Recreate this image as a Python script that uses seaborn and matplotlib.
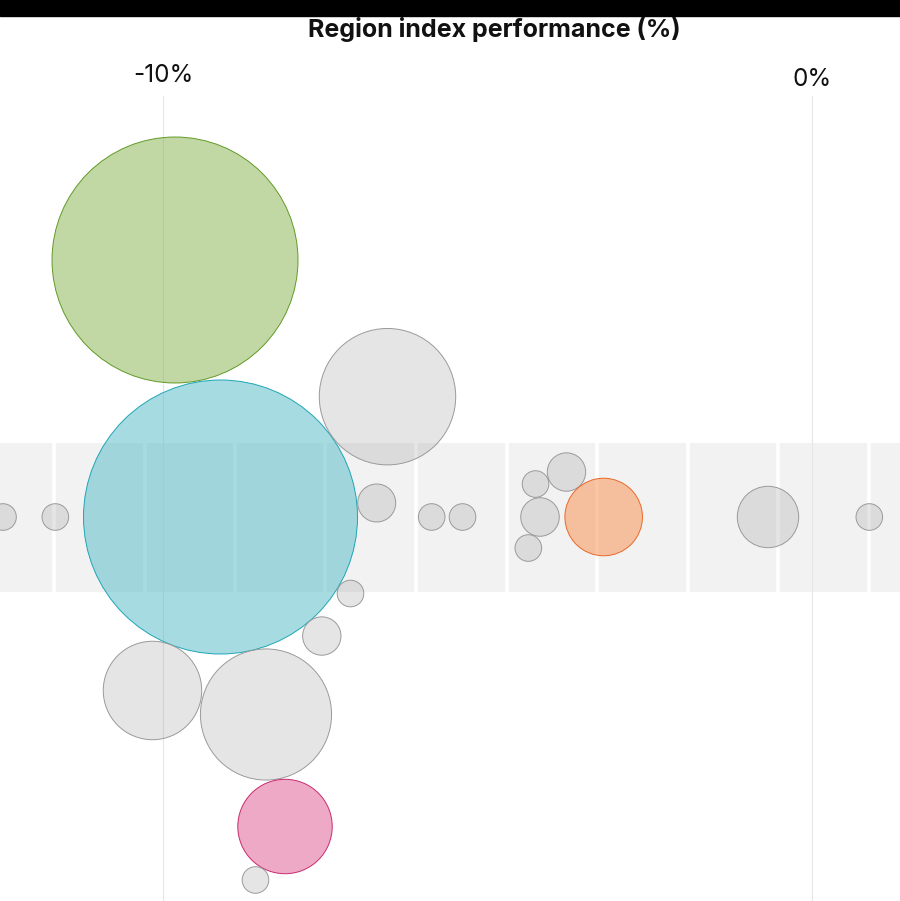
import matplotlib
matplotlib.use("Agg")
import matplotlib.pyplot as plt
import matplotlib.colors as mcolors
import numpy as np
import pandas as pd
import seaborn as sns

# ---------------- data ----------------
perf_x = [-9.815, -9.114, -6.541, -6.707, -12.465, -11.659, -5.860, -5.385,
          -4.260, -3.783, -4.191, -4.371, -3.210, -0.678, 0.883, -7.111,
          -7.553, -10.162, -8.413, -8.120, -8.575]
swarm_y = [3.960, 0.0, 1.854, 0.216, 0.0, 0.0, 0.0, 0.0,
           0.508, 0.693, 0.0, -0.478, 0.0, 0.0, 0.0, -1.179,
           -1.834, -2.673, -3.043, -4.769, -5.593]
weights = [85.5, 106.1, 26.3, 2.04, 1.0, 1.0, 1.0, 1.0,
           1.0, 2.08, 2.1, 1.0, 8.5, 5.33, 1.0, 1.0,
           2.08, 13.7, 24.3, 12.6, 1.0]
groups = ["green", "cyan", "other", "other", "other", "other", "other", "other",
          "other", "other", "other", "other", "orange", "other", "other", "other",
          "other", "other", "other", "pink", "other"]
tick_values = [-10, 0]
tick_labels = ["-10%", "0%"]
title_text = "Region index performance (%)"

df = pd.DataFrame({"x": perf_x, "y": swarm_y, "w": weights, "group": groups})

fill = {"other": ("#999999", 0.25), "green": ("#85b34b", 0.5), "cyan": ("#51b9c7", 0.5),
        "orange": ("#f88c4a", 0.5), "pink": ("#df5591", 0.5)}
edge = {"other": "#9a9a9a", "green": "#5f9a25", "cyan": "#1ea5b5",
        "orange": "#e86a2a", "pink": "#c82a6e"}

# ---------------- figure ----------------
sns.set_theme(style="white")
plt.rcParams["font.family"] = ["Inter", "DejaVu Sans"]

W, H, DPI = 900, 901, 100
fig = plt.figure(figsize=(W / DPI, H / DPI), dpi=DPI)
ax = fig.add_axes([0, 0, 1, 1])

PX = 64.9            # pixels per 1 %
X0, Y0 = 812, 517    # pixel of x=0 and y=0
ax.set_xlim((0 - X0) / PX, (W - X0) / PX)
ax.set_ylim((Y0 - H) / PX, (Y0 - 0) / PX)
ax.axis("off")

def py2y(py):
    return (Y0 - py) / PX

# band
band_lo, band_hi = py2y(592), py2y(443)
ax.axhspan(band_lo, band_hi, color="#f2f2f2", lw=0, zorder=0)
gap_start, gap_step = (54 - X0) / PX, 90.5 / PX
for k in range(10):
    gx = gap_start + k * gap_step
    ax.plot([gx, gx], [band_lo, band_hi], color="white", lw=2.6,
            solid_capstyle="butt", zorder=0.5)

# gridlines
for tv in tick_values:
    ax.plot([tv, tv], [py2y(H), py2y(96)], color="#e6e6e6", lw=0.8, zorder=1)

# bubbles
unit_r = 13.3  # px radius for weight 1
s_unit = (2 * unit_r * 72 / DPI) ** 2
sizes = df["w"].to_numpy() * s_unit
sns.scatterplot(data=df, x="x", y="y", hue="group",
                palette={g: fill[g][0] for g in fill}, s=sizes,
                legend=False, linewidth=0.7, ax=ax, zorder=3)
coll = ax.collections[-1]
coll.set_facecolor([mcolors.to_rgba(fill[g][0], fill[g][1]) for g in df["group"]])
coll.set_edgecolor([mcolors.to_rgba(edge[g]) for g in df["group"]])

# tick labels
tick_py = [75.5, 79.5]
for tv, tl, tp in zip(tick_values, tick_labels, tick_py):
    fig.text((X0 + tv * PX) / W, 1 - tp / H, tl, ha="center", va="center",
             fontsize=17.5, color="#111111")

# title
fig.text(494.5 / W, 1 - 29 / H, title_text, ha="center", va="center",
         fontsize=18, fontweight="bold", color="#111111")

# black top bar
fig.patches.append(plt.Rectangle((0, 1 - 16 / H), 1, 16 / H, transform=fig.transFigure,
                                 color="black", zorder=10))

fig.savefig("out.png", dpi=DPI)
